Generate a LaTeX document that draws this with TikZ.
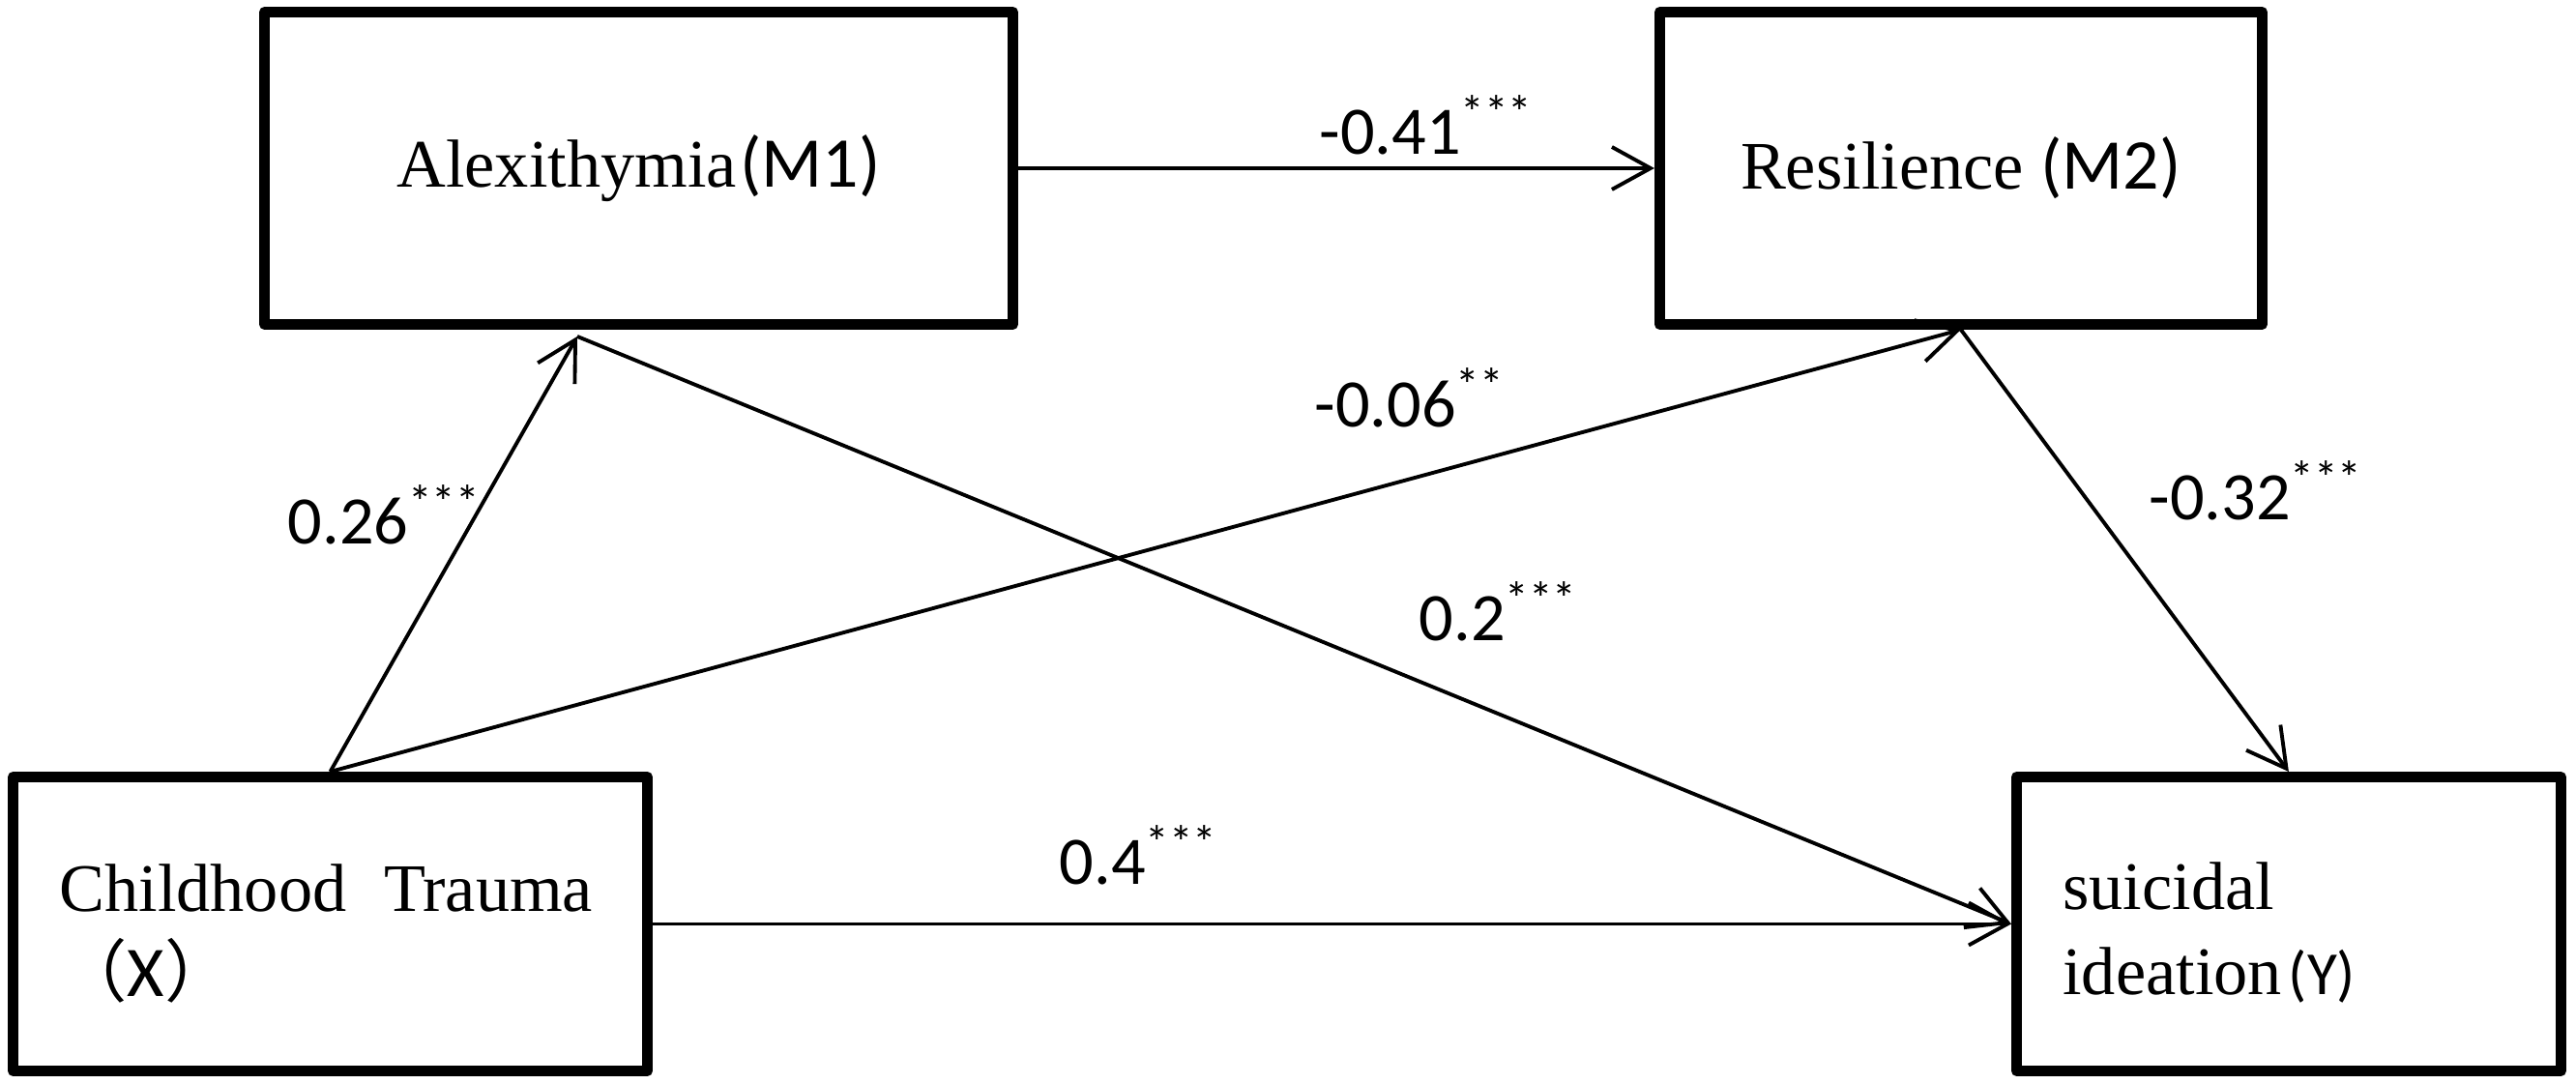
\documentclass[tikz,border=0pt]{standalone}
\usepackage{fontspec}
\setmainfont{Liberation Serif}
\newfontfamily\cali{Carlito}
\newfontfamily\cjk{Noto Sans CJK JP}
\usetikzlibrary{positioning, arrows.meta}

\begin{document}
\begin{tikzpicture}[
    caja/.style={
        rectangle,
        draw=black,
        line width=3.1pt,
        line join=round,
        fill=white,
        font=\fontsize{20}{25}\selectfont,
        minimum height=3.04cm,
    },
    caja_izq/.style={caja, align=left, inner xsep=0.48cm}, % texto a la izquierda
    flecha/.style={-{Straight Barb[length=0.4cm, width=0.44cm]}, line width=1.1pt},
    coef/.style={font=\cali\fontsize{20}{24}\selectfont, anchor=base west, inner sep=0pt}
]
\useasboundingbox (0,0) rectangle (26.64,11.21);

% Cajas
\node[caja_izq, text width=5.6cm] (X) at (3.415,1.655) {\rule{0pt}{19.5pt}Childhood\hspace{0.55em}Trauma\\{\cjk （}{\cali\fontsize{21}{25}\selectfont X}{\cjk ）}};
\node[caja_izq, text width=4.67cm, right=14.05cm of X] (Y) {\rule{0pt}{19pt}suicidal\\ideation\kern2pt{\cali\fontsize{18}{20}\selectfont(Y)}};
\node[caja, minimum width=7.74cm, minimum height=3.23cm] (A) at (6.605,9.47) {Alexithymia\kern1pt{\cali\fontsize{21}{25}\selectfont(M1)}};
\node[caja, minimum width=6.23cm, minimum height=3.23cm, right=6.58cm of A] (R) {Resilience {\cali\fontsize{21}{25}\selectfont(M2)}};

% Punto de llegada bajo la caja A
\coordinate (abajoA) at ([xshift=-0.635cm, yshift=-0.07cm]A.south);

% Flechas
\draw[flecha] (A.east) -- (R.west);
\draw[flecha] (X.north) -- (abajoA);
\draw[flecha] (X.north) -- (R.south);
\draw[flecha] (abajoA) -- (Y.west);
\draw[flecha] (R.south) -- (Y.north);
\draw[flecha] (X.east) -- (Y.west);

% Coeficientes
\node[coef] (c41) at (13.64,9.61) {-0.41\textsuperscript{***}};
\node[coef] (c26) at (2.97,5.58) {0.26\textsuperscript{***}};
\node[coef] (c06) at (13.59,6.79) {-0.06\textsuperscript{**}};
\node[coef] (c2) at (14.67,4.58) {0.2\textsuperscript{***}};
\node[coef] (c32) at (22.22,5.83) {-0.32\textsuperscript{***}};
\node[coef] (c4) at (10.95,2.06) {0.4\textsuperscript{***}};

\end{tikzpicture}
\end{document}
